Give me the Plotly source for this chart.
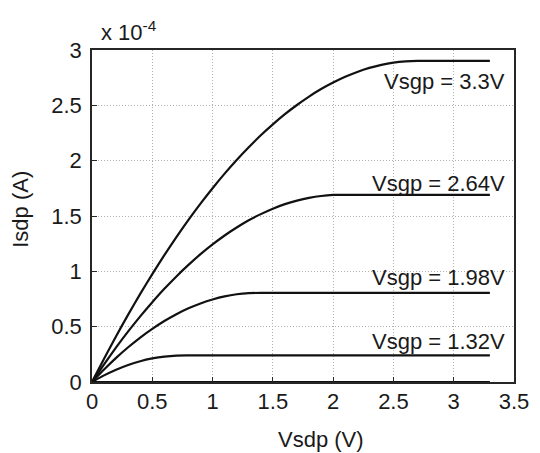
import plotly.graph_objects as go

# Drain-source voltage (V), shared by all curves
vsdp = [0.0, 0.1, 0.2, 0.3, 0.4, 0.5, 0.6, 0.7, 0.8, 0.9, 1.0, 1.1, 1.2, 1.3, 1.4, 1.5, 1.6,
        1.7, 1.8, 1.9, 2.0, 2.1, 2.2, 2.3, 2.4, 2.5, 2.6, 2.7, 2.8, 2.9, 3.0, 3.1, 3.2, 3.3]

# Current in units of 1e-4 A
isdp_330 = [0.0, 0.211, 0.414, 0.609, 0.796, 0.975, 1.146, 1.309, 1.465, 1.612, 1.751, 1.883,
            2.006, 2.121, 2.229, 2.328, 2.420, 2.503, 2.579, 2.647, 2.706, 2.758, 2.802, 2.838,
            2.866, 2.886, 2.897, 2.901, 2.901, 2.901, 2.901, 2.901, 2.901, 2.901]
isdp_264 = [0.0, 0.160, 0.312, 0.457, 0.593, 0.721, 0.842, 0.954, 1.058, 1.155, 1.243, 1.324,
            1.396, 1.461, 1.517, 1.566, 1.607, 1.639, 1.664, 1.681, 1.690, 1.691, 1.691, 1.691,
            1.691, 1.691, 1.691, 1.691, 1.691, 1.691, 1.691, 1.691, 1.691, 1.691]
isdp_198 = [0.0, 0.113, 0.218, 0.314, 0.402, 0.480, 0.551, 0.613, 0.666, 0.710, 0.746, 0.774,
            0.793, 0.803, 0.805, 0.805, 0.805, 0.805, 0.805, 0.805, 0.805, 0.805, 0.805, 0.805,
            0.805, 0.805, 0.805, 0.805, 0.805, 0.805, 0.805, 0.805, 0.805, 0.805]
isdp_132 = [0.0, 0.060, 0.111, 0.154, 0.188, 0.213, 0.230, 0.239, 0.240, 0.240, 0.240, 0.240,
            0.240, 0.240, 0.240, 0.240, 0.240, 0.240, 0.240, 0.240, 0.240, 0.240, 0.240, 0.240,
            0.240, 0.240, 0.240, 0.240, 0.240, 0.240, 0.240, 0.240, 0.240, 0.240]
isdp_066 = [0.0] * 34

series = [isdp_066, isdp_132, isdp_198, isdp_264, isdp_330]

labels = ["Vsgp = 1.32V", "Vsgp = 1.98V", "Vsgp = 2.64V", "Vsgp = 3.3V"]
label_y = [0.365, 0.947, 1.794, 2.711]

x_ticks = [0, 0.5, 1, 1.5, 2, 2.5, 3, 3.5]
y_ticks = [0, 0.5, 1, 1.5, 2, 2.5, 3]

FONT = "Liberation Sans, Arial, sans-serif"
FS = 22
OFF = 8  # page body margin
W, H = 532, 445
ML, MR, MT, MB = 84, 26, 42, 70.5
PW, PH = W - ML - MR, H - MT - MB


def px_to_paper(px, py):
    # px, py are page pixels in the reference image
    return (px - OFF - ML) / PW, 1 - (py - OFF - MT) / PH


fig = go.Figure()
for s in series:
    fig.add_trace(go.Scatter(x=vsdp, y=s, mode="lines",
                             line=dict(color="#111111", width=2.2, shape="spline", smoothing=0.6),
                             showlegend=False, hoverinfo="skip"))

for t, y in zip(labels, label_y):
    fig.add_annotation(x=3.445, y=y, xref="x", yref="y", text=t, showarrow=False,
                       xanchor="right", yanchor="middle",
                       font=dict(family=FONT, size=FS, color="#1a1a1a"))

ax, ay = px_to_paper(99, 31)
fig.add_annotation(x=ax, y=ay, xref="paper", yref="paper",
                   text="x 10<sup>-4</sup>", showarrow=False, xanchor="left", yanchor="middle",
                   font=dict(family=FONT, size=FS, color="#1a1a1a"))

axis_common = dict(
    showgrid=True, gridcolor="#b0b0b0", griddash="1px,2px", gridwidth=1,
    showline=True, linecolor="#262626", linewidth=1.5, mirror=True,
    ticks="inside", ticklen=5, tickcolor="#262626", tickwidth=1,
    zeroline=False,
    tickfont=dict(family=FONT, size=FS, color="#1a1a1a"),
)

fig.update_xaxes(range=[0, 3.5], tickvals=x_ticks,
                 ticktext=[f"{v:g}" for v in x_ticks], ticklabelstandoff=-1, **axis_common)
fig.update_yaxes(range=[0, 3], tickvals=y_ticks,
                 ticktext=[f"{v:g}" for v in y_ticks], ticklabelstandoff=4, **axis_common)

tx, ty = px_to_paper(320.5, 440.5)
fig.add_annotation(x=tx, y=ty, xref="paper", yref="paper",
                   text="Vsdp (V)", showarrow=False, xanchor="center", yanchor="middle",
                   font=dict(family=FONT, size=FS, color="#1a1a1a"))
yx, yy = px_to_paper(21, 210)
fig.add_annotation(x=yx, y=yy, xref="paper", yref="paper",
                   text="Isdp (A)", showarrow=False, xanchor="center", yanchor="middle",
                   textangle=-90,
                   font=dict(family=FONT, size=FS, color="#1a1a1a"))

fig.update_layout(
    width=W, height=H,
    margin=dict(l=ML, r=MR, t=MT, b=MB),
    paper_bgcolor="white", plot_bgcolor="white",
    font=dict(family=FONT, size=FS),
)

fig.write_html("out.html")
